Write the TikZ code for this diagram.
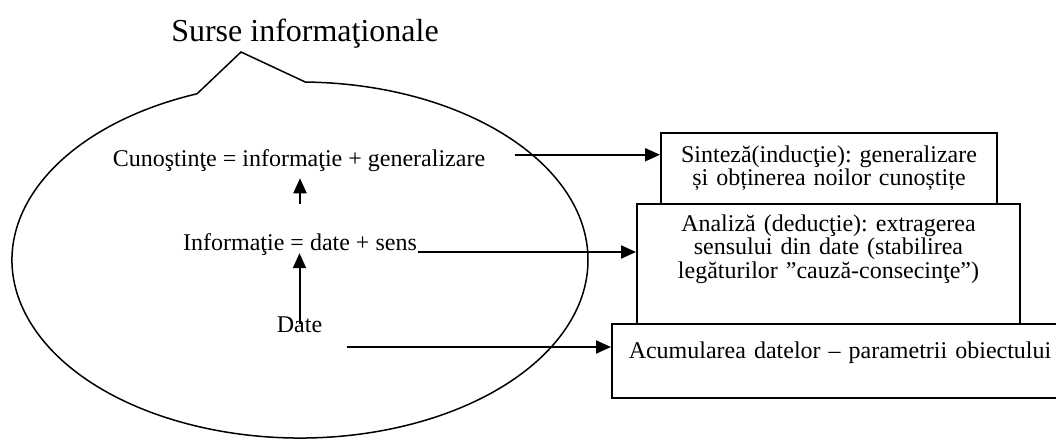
\documentclass[tikz,border=0pt]{standalone}
\usepackage{fontspec}
\setmainfont{Liberation Serif}
\usepackage{tikz}
\usetikzlibrary{arrows.meta,shapes.callouts,calc}
\frenchspacing

\begin{document}
\begin{tikzpicture}[
    x=0.5pt, y=-0.5pt,
    every node/.style={font=\fontsize{12}{10.8}\selectfont},
    term/.style={anchor=base},
    infobox/.style={rectangle, draw, line width=1pt, fill=white, anchor=north west,
                    align=center, inner xsep=0pt, inner ysep=0pt},
    arrow/.style={-{Triangle[length=7.5pt,width=6.5pt]}, line width=1pt}
]
\useasboundingbox (0,0) rectangle (1056,440);

% sources
\node[term, font=\fontsize{16}{19}\selectfont] (title) at (305,41) {Surse informaţionale};
\node[ellipse callout, draw, line width=0.75pt, minimum width=288pt, minimum height=178pt,
      inner sep=0pt, callout absolute pointer={(241,52)}, callout pointer arc=22] (src) at (300,260) {};

\node[term] (know) at (299,166) {Cunoştinţe = informaţie + generalizare};
\node[term] (info) at (300,250) {Informaţie = date + sens};
\node[term] (data) at (299.5,332) {Date};

% processing boxes
\node[infobox, text width=168pt, text height=14.5pt, text depth=27pt] (synth) at (660,132)
    {Sinteză(inducţie): generalizare\\și obținerea noilor cunoștițe};
\node[infobox, text width=191.5pt, text height=13.5pt, text depth=46.5pt] (anal) at (636,203)
    {Analiză (deducţie): extragerea\\sensului din date (stabilirea\\legăturilor ”cauză-consecinţe”)};
\node[infobox, text width=228pt, text height=17pt, text depth=20pt] (accum) at (611,323)
    {Acumularea datelor – parametrii obiectului};

\draw[arrow, shorten <=11pt] (info.north) -- (info.north |- know.south);
\draw[arrow, shorten >=-4.5pt] (data.center) -- (data.center |- info.south);

\coordinate (k1) at ([xshift=11.5pt,yshift=2.7pt]know.east);
\coordinate (i1) at ([xshift=-3pt,yshift=-1pt]info.base east);
\coordinate (d1) at ([xshift=9pt,yshift=-7.5pt]data.base east);
\draw[arrow] (k1) -- (k1 -| synth.west);
\draw[arrow] (i1) -- (i1 -| anal.west);
\draw[arrow] (d1) -- (d1 -| accum.west);
\end{tikzpicture}
\end{document}
